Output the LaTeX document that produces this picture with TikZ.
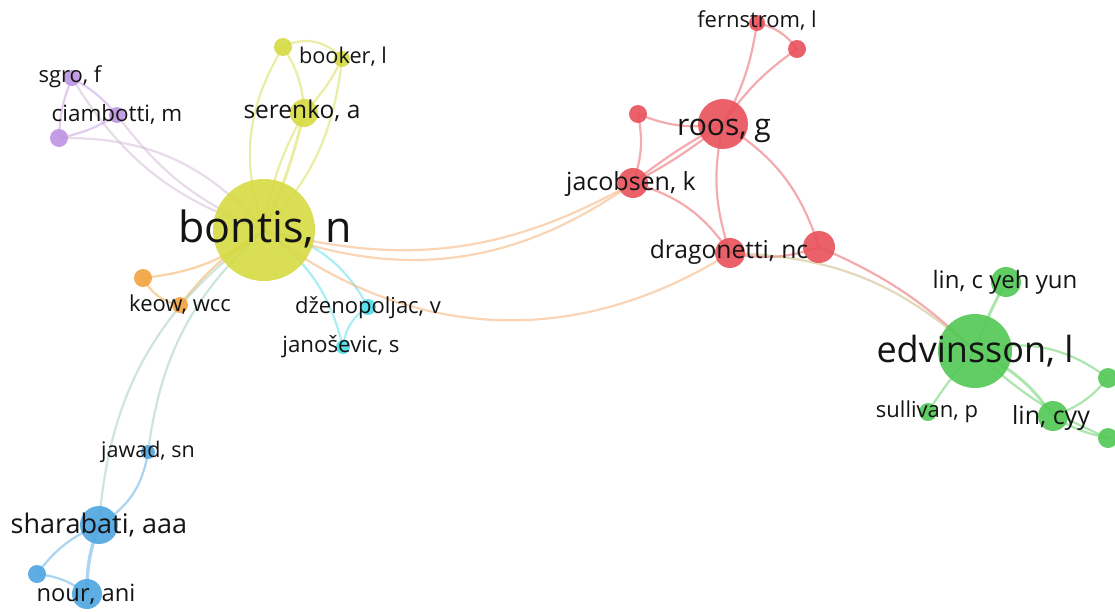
\documentclass[tikz,border=0pt]{standalone}
\usepackage{fontspec}
\setmainfont{Open Sans}
\pgfdeclarelayer{links}
\pgfsetlayers{links,main}

\definecolor{cYel}{RGB}{214,218,66}
\definecolor{cRed}{RGB}{233,80,90}
\definecolor{cGrn}{RGB}{82,200,84}
\definecolor{cBlu}{RGB}{78,165,224}
\definecolor{cPur}{RGB}{190,148,226}
\definecolor{cOrg}{RGB}{243,162,62}
\definecolor{cCya}{RGB}{78,220,234}
\definecolor{cTxt}{RGB}{20,20,20}
\definecolor{cYR}{RGB}{242,168,100}
\definecolor{cBY}{RGB}{150,200,180}
\definecolor{cPY}{RGB}{205,180,210}
\definecolor{cRG}{RGB}{196,176,110}

\tikzset{
  vnode/.style={circle, inner sep=0pt, minimum size=#1, fill opacity=0.9},
  link/.style={line width=2.2pt, draw opacity=0.48},
  lab/.style={text=cTxt, anchor=base, inner sep=0pt},
}
\newcommand{\fs}[1]{\fontsize{#1}{#1}\selectfont}

\begin{document}
\begin{tikzpicture}[x=1pt, y=-1pt]
\useasboundingbox (0,0) rectangle (1115,611);

% ---- yellow cluster
\node[vnode=102pt, fill=cYel] (bontis) at (264,230) {};
\node[vnode=28pt, fill=cYel] (serenko) at (304,113) {};
\node[vnode=18pt, fill=cYel] (ytop) at (283,47) {};
\node[vnode=16pt, fill=cYel] (booker) at (342,59) {};
% ---- purple cluster
\node[vnode=16pt, fill=cPur] (sgro) at (72,78) {};
\node[vnode=16pt, fill=cPur] (ciambotti) at (117,115) {};
\node[vnode=18pt, fill=cPur] (pleft) at (59,138) {};
% ---- orange cluster
\node[vnode=18pt, fill=cOrg] (oleft) at (143,278) {};
\node[vnode=16pt, fill=cOrg] (keow) at (180,305) {};
% ---- cyan cluster
\node[vnode=16pt, fill=cCya] (dzeno) at (368,307) {};
\node[vnode=14pt, fill=cCya] (janosevic) at (343,347) {};
% ---- blue cluster
\node[vnode=14pt, fill=cBlu] (jawad) at (148,452) {};
\node[vnode=38pt, fill=cBlu] (sharabati) at (99,525) {};
\node[vnode=18pt, fill=cBlu] (bsmall) at (37,574) {};
\node[vnode=30pt, fill=cBlu] (nour) at (87,594) {};
% ---- red cluster
\node[vnode=50pt, fill=cRed] (roos) at (723,124) {};
\node[vnode=16pt, fill=cRed] (fernstrom) at (757,23) {};
\node[vnode=18pt, fill=cRed] (rtop) at (797,49) {};
\node[vnode=18pt, fill=cRed] (rsmall) at (638,114) {};
\node[vnode=30pt, fill=cRed] (jacobsen) at (633,183) {};
\node[vnode=30pt, fill=cRed] (dragonetti) at (730,253) {};
\node[vnode=32pt, fill=cRed] (rright) at (819,247) {};
% ---- green cluster
\node[vnode=74pt, fill=cGrn] (edvinsson) at (975,351) {};
\node[vnode=30pt, fill=cGrn] (linc) at (1006,282) {};
\node[vnode=18pt, fill=cGrn] (sullivan) at (928,412) {};
\node[vnode=30pt, fill=cGrn] (lincyy) at (1053,416) {};
\node[vnode=20pt, fill=cGrn] (gtop) at (1108,378) {};
\node[vnode=20pt, fill=cGrn] (gbot) at (1108,438) {};

\begin{pgfonlayer}{links}
% yellow
\draw[link, cYel] (bontis.center) to[bend left=25] (ytop.center);
\draw[link, cYel] (ytop.center) to[bend left=15] (serenko.center);
\draw[link, cYel] (ytop.center) to[bend left=40] (booker.center);
\draw[link, cYel] (booker.center) to[bend left=8] (serenko.center);
\draw[link, cYel] (booker.center) to[bend left=18] (bontis.center);
\draw[link, cYel, line width=3pt] (serenko.center) to[bend left=5] (bontis.center);
\draw[link, cYel] (serenko.center) to[bend right=10] (bontis.center);
% purple
\draw[link, cPY] (sgro.center) to[bend right=20] (bontis.center);
\draw[link, cPY] (ciambotti.center) to[bend right=15] (bontis.center);
\draw[link, cPY] (pleft.center) to[bend left=25] (bontis.center);
\draw[link, cPur] (sgro.center) to[bend left=10] (ciambotti.center);
\draw[link, cPur] (sgro.center) to[bend right=10] (pleft.center);
\draw[link, cPur] (ciambotti.center) to[bend left=10] (pleft.center);
% orange
\draw[link, cOrg] (oleft.center) to[bend right=15] (bontis.center);
\draw[link, cOrg] (oleft.center) to[bend right=25] (keow.center);
\draw[link, cOrg] (keow.center) to[bend left=10] (bontis.center);
% cyan
\draw[link, cCya] (bontis.center) to[bend left=25] (dzeno.center);
\draw[link, cCya] (bontis.center) to[bend left=20] (janosevic.center);
\draw[link, cCya] (dzeno.center) to[bend right=25] (janosevic.center);
% blue
\draw[link, cBY] (sharabati.center) to[bend left=25] (bontis.center);
\draw[link, cBY] (jawad.center) to[bend left=20] (bontis.center);
\draw[link, cBlu] (jawad.center) to[bend left=25] (sharabati.center);
\draw[link, cBlu, line width=3.4pt] (sharabati.center) to[bend right=10] (nour.center);
\draw[link, cBlu] (sharabati.center) to[bend right=15] (bsmall.center);
\draw[link, cBlu] (bsmall.center) to[bend left=15] (nour.center);
% red
\draw[link, cRed] (roos.center) to[bend right=10] (fernstrom.center);
\draw[link, cRed] (roos.center) to[bend left=10] (rtop.center);
\draw[link, cRed] (fernstrom.center) to[bend left=20] (rtop.center);
\draw[link, cRed] (rsmall.center) to[bend right=15] (roos.center);
\draw[link, cRed] (rsmall.center) to[bend left=15] (jacobsen.center);
\draw[link, cRed] (jacobsen.center) to[bend left=5] (roos.center);
\draw[link, cRed] (jacobsen.center) to[bend right=5] (roos.center);
\draw[link, cRed] (jacobsen.center) to[bend left=20] (dragonetti.center);
\draw[link, cRed] (roos.center) to[bend right=15] (dragonetti.center);
\draw[link, cRed] (roos.center) to[bend left=20] (rright.center);
\draw[link, cRed] (dragonetti.center) to[bend right=15] (rright.center);
\draw[link, cYR] (bontis.center) to[bend right=22] (jacobsen.center);
\draw[link, cYR] (bontis.center) to[bend right=28] (jacobsen.center);
\draw[link, cYR] (bontis.center) to[bend right=35] (dragonetti.center);
\draw[link, cRed] (rright.center) to[bend left=10] (edvinsson.center);
\draw[link, cRG] (dragonetti.center) to[bend left=20] (edvinsson.center);
% green
\draw[link, cGrn, line width=3pt] (edvinsson.center) to[bend left=5] (linc.center);
\draw[link, cGrn] (edvinsson.center) to[bend right=5] (sullivan.center);
\draw[link, cGrn, line width=3pt] (edvinsson.center) to[bend left=15] (lincyy.center);
\draw[link, cGrn] (edvinsson.center) to[bend left=25] (gtop.center);
\draw[link, cGrn] (edvinsson.center) to[bend right=10] (gbot.center);
\draw[link, cGrn] (lincyy.center) to[bend right=15] (gtop.center);
\draw[link, cGrn] (lincyy.center) to[bend right=10] (gbot.center);
\end{pgfonlayer}

% ---- labels
\node[lab, font=\fs{43}] (t-bontis) at (265,242) {bontis, n};
\node[lab, font=\fs{24.5}] (t-serenko) at (302,118) {serenko, a};
\node[lab, font=\fs{21.7}] (t-booker) at (343,63) {booker, l};
\node[lab, font=\fs{22}] (t-sgro) at (70,82) {sgro, f};
\node[lab, font=\fs{22.4}] (t-ciambotti) at (117,121) {ciambotti, m};
\node[lab, font=\fs{22}] (t-keow) at (180,311) {keow, wcc};
\node[lab, font=\fs{22}] (t-dzeno) at (368,313) {dženopoljac, v};
\node[lab, font=\fs{22.3}] (t-janosevic) at (341,352) {janoševic, s};
\node[lab, font=\fs{21.5}] (t-jawad) at (148,457) {jawad, sn};
\node[lab, font=\fs{27}] (t-sharabati) at (99,533) {sharabati, aaa};
\node[lab, font=\fs{23.7}] (t-nour) at (86,601) {nour, ani};
\node[lab, font=\fs{30}] (t-roos) at (724,135) {roos, g};
\node[lab, font=\fs{22}] (t-fernstrom) at (757,27) {fernstrom, l};
\node[lab, font=\fs{25}] (t-jacobsen) at (631,190) {jacobsen, k};
\node[lab, font=\fs{24.6}] (t-dragonetti) at (729,258) {dragonetti, nc};
\node[lab, font=\fs{24}] (t-linc) at (1005,288) {lin, c yeh yun};
\node[lab, font=\fs{36}] (t-edvinsson) at (975,362) {edvinsson, l};
\node[lab, font=\fs{22}] (t-sullivan) at (927,417) {sullivan, p};
\node[lab, font=\fs{25}] (t-lincyy) at (1051,424) {lin, cyy};
\end{tikzpicture}
\end{document}
